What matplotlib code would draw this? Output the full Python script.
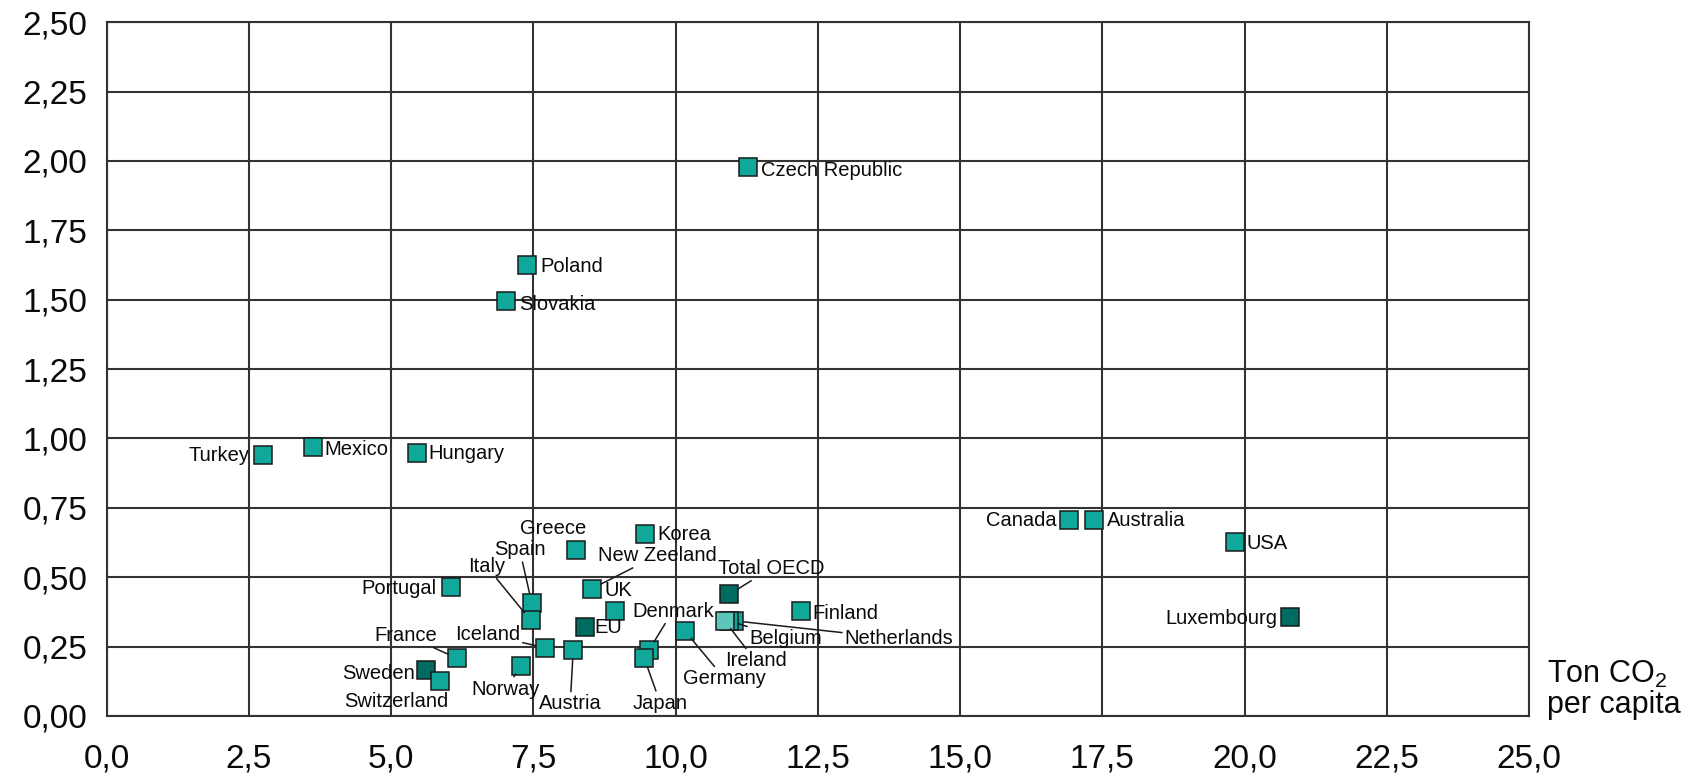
import matplotlib
matplotlib.use("Agg")
import matplotlib.pyplot as plt
from matplotlib.ticker import FuncFormatter, MultipleLocator

plt.rcParams['font.family'] = ['Liberation Sans', 'DejaVu Sans']
plt.rcParams['mathtext.fontset'] = 'custom'
plt.rcParams['mathtext.rm'] = 'Liberation Sans'

# data
countries = ['Turkey', 'Mexico', 'Hungary', 'Czech Republic', 'Poland', 'Slovakia',
             'Canada', 'Australia', 'USA', 'Luxembourg', 'Portugal', 'Greece',
             'Spain', 'Italy', 'Korea', 'New Zeeland', 'UK', 'Denmark', 'EU',
             'Japan', 'Germany', 'Iceland', 'Austria', 'Norway', 'France',
             'Sweden', 'Switzerland', 'Total OECD', 'Netherlands', 'Belgium',
             'Ireland', 'Finland']
co2 = [2.74, 3.63, 5.45, 11.27, 7.39, 7.02,
       16.92, 17.35, 19.83, 20.80, 6.05, 8.25,
       7.47, 7.45, 9.47, 8.53, 8.93, 9.53, 8.40,
       9.45, 10.16, 7.71, 8.20, 7.28, 6.16,
       5.61, 5.86, 10.94, 11.03, 10.94,
       10.86, 12.20]
ratio = [0.939, 0.968, 0.948, 1.977, 1.625, 1.495,
         0.706, 0.706, 0.627, 0.356, 0.466, 0.597,
         0.408, 0.345, 0.657, 0.459, 0.379, 0.237, 0.321,
         0.208, 0.307, 0.246, 0.238, 0.180, 0.208,
         0.167, 0.127, 0.438, 0.343, 0.343,
         0.343, 0.378]
kind = ['c', 'c', 'c', 'c', 'c', 'c',
        'c', 'c', 'c', 'd', 'c', 'c',
        'c', 'c', 'c', 'c', 'c', 'c', 'd',
        'c', 'c', 'c', 'c', 'c', 'c',
        'd', 'c', 'd', 'c', 'c',
        'l', 'c']

colors = {'c': '#0fa89b', 'd': '#006b61', 'l': '#5cc6bb'}

# label layout: offset in pixels, alignment, leader line
label_dx = [-13, 11, 12, 13, 13, 13,
            -13, 13, 12, -13, -14, -23,
            -12, -44, 12, 65, -10, -17, 10,
            16, 40, -58, -3, -15, -51,
            -11, -44, 42, 165, 57,
            31, 12]
label_dy = [0, -2, -1, -3, -1, -3,
            0, 0, -1, -1, -2, 22,
            53, 54, -1, 33, 20, 39, -1,
            -45, -48, 13, -54, -23, 23,
            -4, -21, 26, -18, -18,
            -40, -2]
label_ha = ['right', 'left', 'left', 'left', 'left', 'left',
            'right', 'left', 'left', 'right', 'right', 'center',
            'center', 'center', 'left', 'center', 'left', 'left', 'left',
            'center', 'center', 'center', 'center', 'center', 'center',
            'right', 'center', 'center', 'center', 'center',
            'center', 'left']
leader = ['Spain', 'Italy', 'New Zeeland', 'Denmark', 'Japan', 'Germany',
          'Iceland', 'Austria', 'Norway', 'France', 'Total OECD',
          'Netherlands', 'Belgium', 'Ireland']

fig = plt.figure(figsize=(16.91, 7.78), dpi=100)
ax = fig.add_axes([0.0631, 0.0797, 0.8411, 0.8917])

for i, name in enumerate(countries):
    ax.plot(co2[i], ratio[i], marker='s', markersize=12.5, color=colors[kind[i]],
            markeredgecolor='#1a1a1a', markeredgewidth=1.1, zorder=3 + i * 0.01)
    if name in leader:
        ax.annotate(name, (co2[i], ratio[i]), xytext=(label_dx[i], label_dy[i]),
                    textcoords='offset pixels', ha=label_ha[i], va='center',
                    fontsize=14.5, color='#0a0a0a', zorder=5,
                    arrowprops=dict(arrowstyle='-', color='#1a1a1a', lw=1.1,
                                    shrinkA=0, shrinkB=7))
    else:
        ax.annotate(name, (co2[i], ratio[i]), xytext=(label_dx[i], label_dy[i]),
                    textcoords='offset pixels', ha=label_ha[i], va='center',
                    fontsize=14.5, color='#0a0a0a', zorder=5)

ax.set_xlim(0, 25)
ax.set_ylim(0, 2.5)
ax.xaxis.set_major_locator(MultipleLocator(2.5))
ax.yaxis.set_major_locator(MultipleLocator(0.25))
ax.xaxis.set_major_formatter(FuncFormatter(lambda v, p: f"{v:.1f}".replace('.', ',')))
ax.yaxis.set_major_formatter(FuncFormatter(lambda v, p: f"{v:.2f}".replace('.', ',')))
ax.tick_params(length=0, labelsize=24, colors='#0a0a0a')
ax.tick_params(axis='x', pad=19.5)
ax.tick_params(axis='y', pad=14)

ax.set_axisbelow(True)
ax.grid(True, color='#333333', lw=1.5)
for s in ax.spines.values():
    s.set_color('#333333')
    s.set_linewidth(1.5)

ax.text(1.013, -0.006, 'Ton CO$_2$\nper capita', transform=ax.transAxes,
        ha='left', va='bottom', fontsize=22, color='#0a0a0a', linespacing=1.0)

fig.savefig('out.png', dpi=100)
